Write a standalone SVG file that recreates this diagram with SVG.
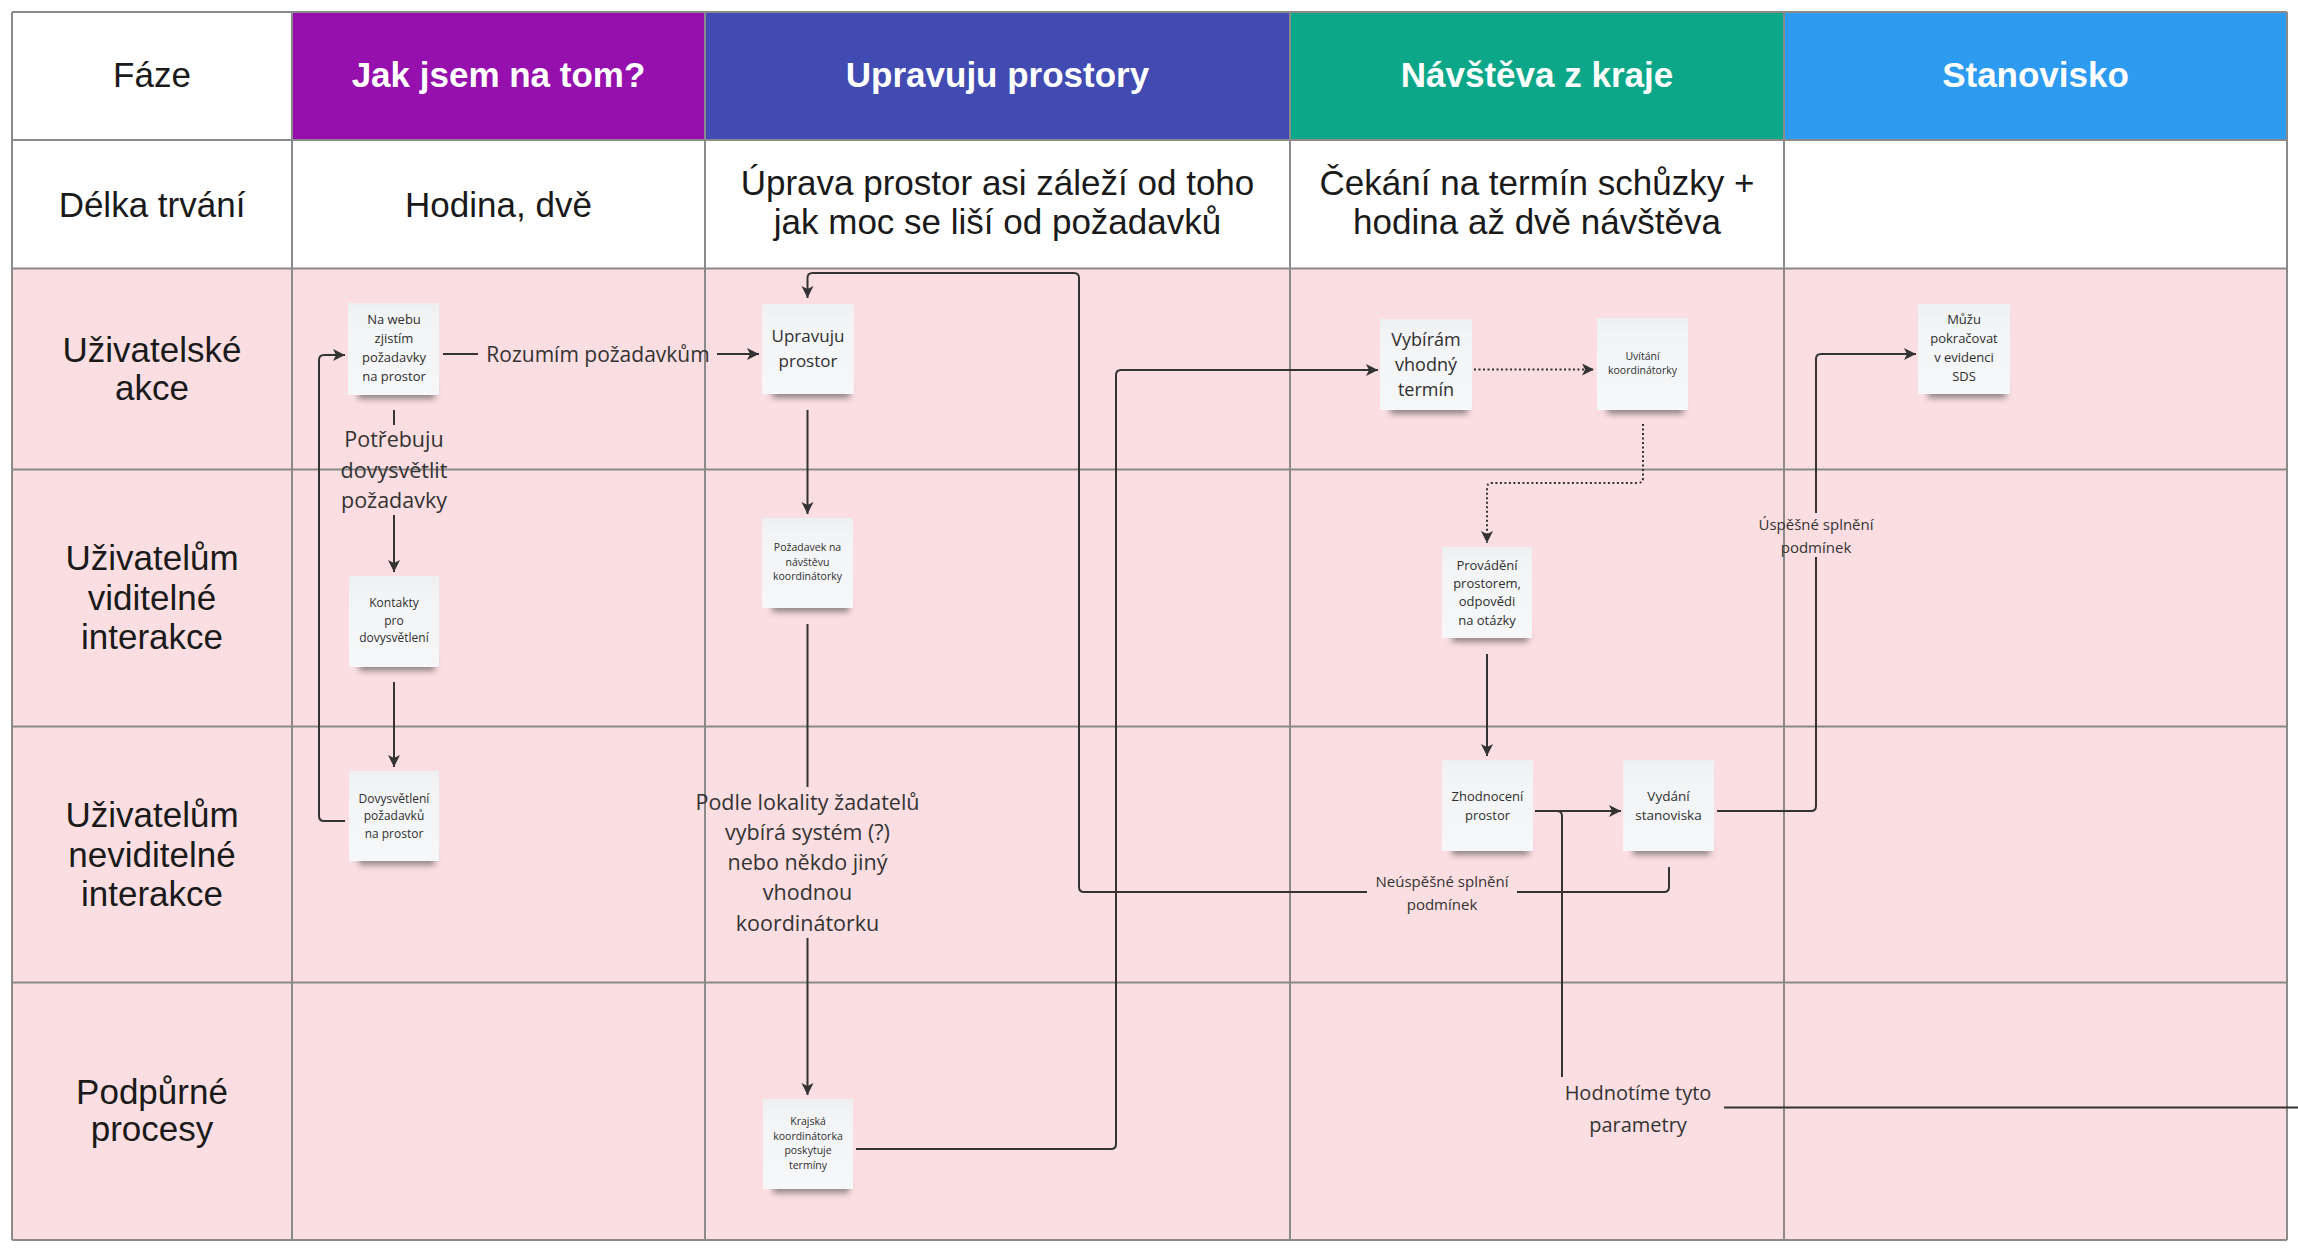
<svg xmlns="http://www.w3.org/2000/svg" width="2298" height="1250" viewBox="0 0 2298 1250">
<style>
.grid{stroke:#8a8a8a;stroke-width:2;fill:none}
.hd{font-family:"Liberation Sans",Arial,sans-serif;font-size:35px;text-anchor:middle;fill:#1a1a1a}
.hdw{font-family:"Liberation Sans",Arial,sans-serif;font-size:35px;font-weight:bold;text-anchor:middle;fill:#ffffff}
.note{fill:url(#ng)}
.sh{fill:#4a4a4a;opacity:.6}
.nt{font-family:"Open Sans",sans-serif;text-anchor:middle;fill:#2f2f2f}
.lbl{font-family:"Open Sans",sans-serif;text-anchor:middle;fill:#333333}
.c{fill:none;stroke:#333333;stroke-width:2}
.d{stroke-dasharray:2 2.5}
</style>
<defs>
<linearGradient id="ng" x1="0" y1="0" x2="0" y2="1">
<stop offset="0" stop-color="#eeeff1"/>
<stop offset="0.2" stop-color="#f3f4f6"/>
<stop offset="1" stop-color="#f6f7f9"/>
</linearGradient>
<filter id="blur" x="-20%" y="-100%" width="140%" height="300%"><feGaussianBlur stdDeviation="3"/></filter>
<marker id="ah" markerUnits="userSpaceOnUse" markerWidth="14" markerHeight="14" refX="12" refY="6" orient="auto">
<path d="M0,0 L12,6 L0,12 L3,6 Z" fill="#333333"/>
</marker>
</defs>
<rect x="0" y="0" width="2298" height="1250" fill="#ffffff"/>
<g id="table">
<rect x="12" y="12" width="280" height="128" fill="#ffffff"/>
<rect x="292" y="12" width="413" height="128" fill="#9510AC"/>
<rect x="705" y="12" width="585" height="128" fill="#414BB2"/>
<rect x="1290" y="12" width="494" height="128" fill="#0CA789"/>
<rect x="1784" y="12" width="503" height="128" fill="#2D9BF0"/>
<rect x="12" y="268.5" width="2275" height="971.5" fill="#FBDEE1"/>
<path class="grid" d="M12,12 V1240 M292,12 V1240 M705,12 V1240 M1290,12 V1240 M1784,12 V1240 M2287,12 V1240 M12,12 H2287 M12,140 H2287 M12,268.5 H2287 M12,469.5 H2287 M12,726.5 H2287 M12,982.5 H2287 M12,1240 H2287"/>
<text class="hd" x="152" y="87">Fáze</text>
<text class="hdw" x="498.5" y="87">Jak jsem na tom?</text>
<text class="hdw" x="997.5" y="87">Upravuju prostory</text>
<text class="hdw" x="1537" y="87">Návštěva z kraje</text>
<text class="hdw" x="2035.5" y="87">Stanovisko</text>
<text class="hd" x="152" y="217">Délka trvání</text>
<text class="hd" x="498.5" y="217">Hodina, dvě</text>
<text class="hd" x="997.5" y="195"><tspan x="997.5" y="195">Úprava prostor asi záleží od toho</tspan><tspan x="997.5" y="234">jak moc se liší od požadavků</tspan></text>
<text class="hd" x="1537" y="195"><tspan x="1537" y="195">Čekání na termín schůzky +</tspan><tspan x="1537" y="234">hodina až dvě návštěva</tspan></text>
<text class="hd" x="152" y="362"><tspan x="152" y="362">Uživatelské</tspan><tspan x="152" y="400">akce</tspan></text>
<text class="hd" x="152" y="570"><tspan x="152" y="570">Uživatelům</tspan><tspan x="152" y="609.5">viditelné</tspan><tspan x="152" y="649">interakce</tspan></text>
<text class="hd" x="152" y="827"><tspan x="152" y="827">Uživatelům</tspan><tspan x="152" y="866.5">neviditelné</tspan><tspan x="152" y="906">interakce</tspan></text>
<text class="hd" x="152" y="1103.5"><tspan x="152" y="1103.5">Podpůrné</tspan><tspan x="152" y="1140.5">procesy</tspan></text>
</g>
<g id="connectors">
<path class="c" marker-end="url(#ah)" d="M345,821 H324 Q319,821 319,816 V360 Q319,355 324,355 H345"/>
<path class="c" d="M443,354 H478"/>
<path class="c" marker-end="url(#ah)" d="M717,354 H759"/>
<text class="lbl" font-size="21" x="598" y="361.5">Rozumím požadavkům</text>
<path class="c" d="M394,410 V425"/>
<text class="lbl" font-size="21.5"><tspan x="394" y="447">Potřebuju</tspan><tspan x="394" y="477.5">dovysvětlit</tspan><tspan x="394" y="507.5">požadavky</tspan></text>
<path class="c" marker-end="url(#ah)" d="M394,515 V572"/>
<path class="c" marker-end="url(#ah)" d="M394,682 V767"/>
<path class="c" marker-end="url(#ah)" d="M807.5,410 V514"/>
<path class="c" d="M807.5,624 V787"/>
<text class="lbl" font-size="21.5"><tspan x="807.5" y="810">Podle lokality žadatelů</tspan><tspan x="807.5" y="840">vybírá systém (?)</tspan><tspan x="807.5" y="870">nebo někdo jiný</tspan><tspan x="807.5" y="900">vhodnou</tspan><tspan x="807.5" y="930.5">koordinátorku</tspan></text>
<path class="c" marker-end="url(#ah)" d="M807.5,938 V1095"/>
<path class="c" marker-end="url(#ah)" d="M856,1149 H1111 Q1116,1149 1116,1144 V375 Q1116,370 1121,370 H1378"/>
<path class="c d" marker-end="url(#ah)" d="M1474,369.5 H1594"/>
<path class="c d" marker-end="url(#ah)" d="M1643,424 V478 Q1643,483 1638,483 H1492 Q1487,483 1487,488 V543"/>
<path class="c" marker-end="url(#ah)" d="M1487,654 V756"/>
<path class="c" marker-end="url(#ah)" d="M1535,811 H1621"/>
<path class="c" d="M1540,811 H1557 Q1562,811 1562,816 V1077"/>
<text class="lbl" font-size="20"><tspan x="1638" y="1100">Hodnotíme tyto</tspan><tspan x="1638" y="1131.5">parametry</tspan></text>
<path class="c" d="M1724,1107.5 H2298"/>
<path class="c" d="M1717,811 H1811 Q1816,811 1816,806 V557"/>
<text class="lbl" font-size="15"><tspan x="1816" y="530">Úspěšné splnění</tspan><tspan x="1816" y="552.5">podmínek</tspan></text>
<path class="c" marker-end="url(#ah)" d="M1816,513 V359 Q1816,354 1821,354 H1916"/>
<path class="c" d="M1669,867 V887 Q1669,892 1664,892 H1517"/>
<text class="lbl" font-size="15"><tspan x="1442" y="887">Neúspěšné splnění</tspan><tspan x="1442" y="909.5">podmínek</tspan></text>
<path class="c" marker-end="url(#ah)" d="M1367,892 H1084 Q1079,892 1079,887 V278 Q1079,273 1074,273 H812.5 Q807.5,273 807.5,278 V298"/>
</g>
<g id="n1">
<rect class="sh" x="358" y="385" width="77" height="14" filter="url(#blur)"/>
<rect class="note" x="348" y="303" width="91" height="92"/>
<text class="nt" font-size="13"><tspan x="394" y="324">Na webu</tspan><tspan x="394" y="343">zjistím</tspan><tspan x="394" y="362">požadavky</tspan><tspan x="394" y="381">na prostor</tspan></text>
</g>
<g id="n2">
<rect class="sh" x="359" y="657" width="76" height="14" filter="url(#blur)"/>
<rect class="note" x="349" y="576" width="90" height="91"/>
<text class="nt" font-size="12"><tspan x="394" y="607">Kontakty</tspan><tspan x="394" y="624.5">pro</tspan><tspan x="394" y="642">dovysvětlení</tspan></text>
</g>
<g id="n3">
<rect class="sh" x="359" y="851" width="76" height="14" filter="url(#blur)"/>
<rect class="note" x="349" y="771" width="90" height="90"/>
<text class="nt" font-size="12"><tspan x="394" y="802.5">Dovysvětlení</tspan><tspan x="394" y="820">požadavků</tspan><tspan x="394" y="837.5">na prostor</tspan></text>
</g>
<g id="n4">
<rect class="sh" x="772" y="384" width="78" height="14" filter="url(#blur)"/>
<rect class="note" x="762" y="304" width="92" height="90"/>
<text class="nt" font-size="17"><tspan x="808" y="342">Upravuju</tspan><tspan x="808" y="366.5">prostor</tspan></text>
</g>
<g id="n5">
<rect class="sh" x="772" y="598" width="77" height="14" filter="url(#blur)"/>
<rect class="note" x="762" y="518" width="91" height="90"/>
<text class="nt" font-size="10.5"><tspan x="807.5" y="551">Požadavek na</tspan><tspan x="807.5" y="566">návštěvu</tspan><tspan x="807.5" y="580">koordinátorky</tspan></text>
</g>
<g id="n6">
<rect class="sh" x="773" y="1179" width="76" height="14" filter="url(#blur)"/>
<rect class="note" x="763" y="1099" width="90" height="90"/>
<text class="nt" font-size="10.5"><tspan x="808" y="1125">Krajská</tspan><tspan x="808" y="1140">koordinátorka</tspan><tspan x="808" y="1154">poskytuje</tspan><tspan x="808" y="1169">termíny</tspan></text>
</g>
<g id="n7">
<rect class="sh" x="1390" y="400" width="78" height="14" filter="url(#blur)"/>
<rect class="note" x="1380" y="319" width="92" height="91"/>
<text class="nt" font-size="18"><tspan x="1426" y="345.5">Vybírám</tspan><tspan x="1426" y="370.5">vhodný</tspan><tspan x="1426" y="395.5">termín</tspan></text>
</g>
<g id="n8">
<rect class="sh" x="1607" y="400" width="77" height="14" filter="url(#blur)"/>
<rect class="note" x="1597" y="318" width="91" height="92"/>
<text class="nt" font-size="10.5"><tspan x="1642.5" y="360">Uvítání</tspan><tspan x="1642.5" y="374">koordinátorky</tspan></text>
</g>
<g id="n9">
<rect class="sh" x="1452" y="628" width="76" height="14" filter="url(#blur)"/>
<rect class="note" x="1442" y="547" width="90" height="91"/>
<text class="nt" font-size="13"><tspan x="1487" y="569.5">Provádění</tspan><tspan x="1487" y="587.5">prostorem,</tspan><tspan x="1487" y="606">odpovědi</tspan><tspan x="1487" y="625">na otázky</tspan></text>
</g>
<g id="n10">
<rect class="sh" x="1452" y="841" width="77" height="14" filter="url(#blur)"/>
<rect class="note" x="1442" y="760" width="91" height="91"/>
<text class="nt" font-size="13"><tspan x="1487.5" y="800.5">Zhodnocení</tspan><tspan x="1487.5" y="820">prostor</tspan></text>
</g>
<g id="n11">
<rect class="sh" x="1633" y="841" width="77" height="14" filter="url(#blur)"/>
<rect class="note" x="1623" y="760" width="91" height="91"/>
<text class="nt" font-size="13.5"><tspan x="1668.5" y="800.5">Vydání</tspan><tspan x="1668.5" y="820">stanoviska</tspan></text>
</g>
<g id="n12">
<rect class="sh" x="1928" y="384" width="78" height="14" filter="url(#blur)"/>
<rect class="note" x="1918" y="304" width="92" height="90"/>
<text class="nt" font-size="13"><tspan x="1964" y="324">Můžu</tspan><tspan x="1964" y="343.3">pokračovat</tspan><tspan x="1964" y="362.3">v evidenci</tspan><tspan x="1964" y="381">SDS</tspan></text>
</g>
</svg>
